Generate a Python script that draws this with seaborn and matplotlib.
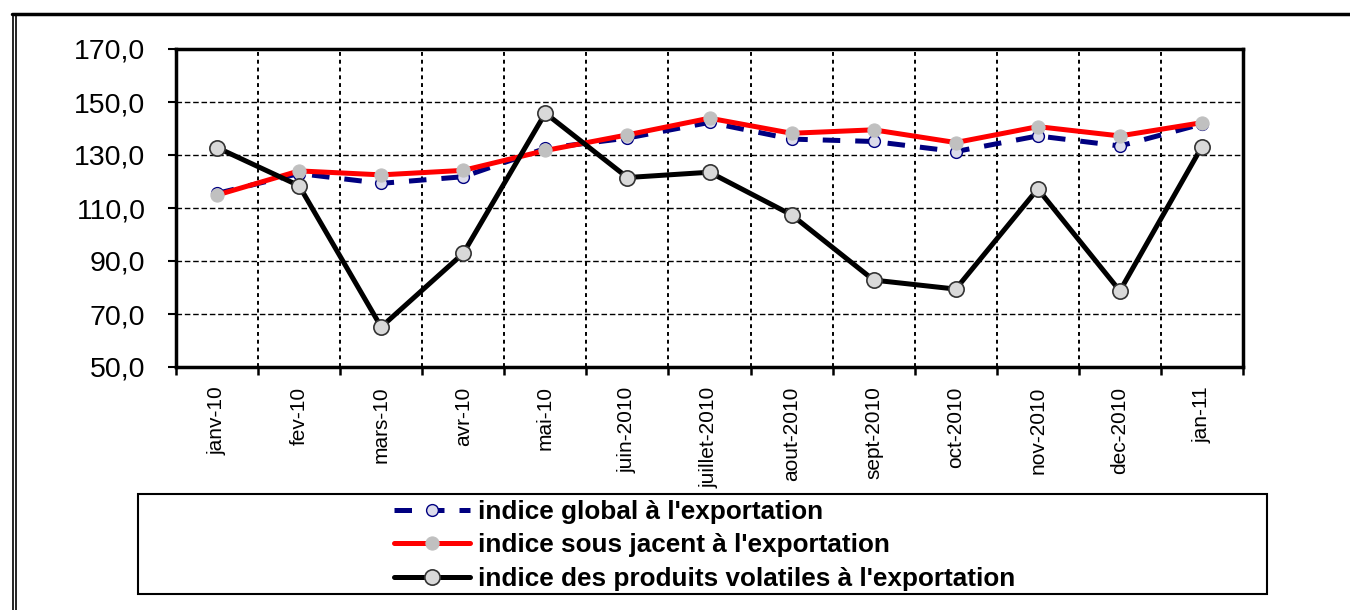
import matplotlib
matplotlib.use("Agg")
import matplotlib.pyplot as plt
from matplotlib.lines import Line2D
from matplotlib.patches import Rectangle
from matplotlib.ticker import FuncFormatter, FixedLocator
import seaborn as sns
import numpy as np
import pandas as pd

months = ["janv-10", "fev-10", "mars-10", "avr-10", "mai-10", "juin-2010",
          "juillet-2010", "aout-2010", "sept-2010", "oct-2010", "nov-2010",
          "dec-2010", "jan-11"]
global_idx = [115.5, 123.0, 119.3, 121.8, 132.5, 136.4, 142.3, 136.0, 135.1,
              131.3, 137.2, 133.4, 141.7]
sous_jacent = [114.9, 124.0, 122.5, 124.2, 131.7, 137.6, 143.9, 138.2, 139.5,
               134.7, 140.7, 137.2, 142.2]
volatiles = [132.8, 118.4, 65.1, 92.9, 145.8, 121.5, 123.5, 107.4, 82.8,
             79.4, 117.2, 78.7, 133.2]
labels = ["indice global à l'exportation",
          "indice sous jacent à l'exportation",
          "indice des produits volatiles à l'exportation"]

df = pd.DataFrame({"pos": np.arange(len(months)), "g": global_idx,
                   "s": sous_jacent, "v": volatiles})

sns.set_style("white")
plt.rcParams["font.family"] = ["Liberation Sans", "DejaVu Sans"]
plt.rcParams["text.color"] = "black"
plt.rcParams["xtick.color"] = "black"
plt.rcParams["ytick.color"] = "black"

W, H = 1350, 610
fig = plt.figure(figsize=(W / 100, H / 100), dpi=100)
ax = fig.add_axes([176 / W, 1 - 367 / H, (1243 - 176) / W, (367 - 49) / H])

sns.lineplot(data=df, x="pos", y="g", ax=ax, color="#000080", linewidth=3.6,
             linestyle=(0, (3.5, 3)), marker="o", markersize=8.5,
             markerfacecolor="#DCDCEB", markeredgecolor="#000080",
             markeredgewidth=1.0, label=labels[0], legend=False, zorder=3)
sns.lineplot(data=df, x="pos", y="s", ax=ax, color="#FF0000", linewidth=3.6,
             marker="o", markersize=9.5, markerfacecolor="#C0C0C0",
             markeredgecolor="#C0C0C0", label=labels[1], legend=False, zorder=4)
sns.lineplot(data=df, x="pos", y="v", ax=ax, color="#000000", linewidth=3.6,
             marker="o", markersize=11, markerfacecolor="#D9D9D9",
             markeredgecolor="#333333", markeredgewidth=1.2,
             label=labels[2], legend=False, zorder=5)

ax.set_xlim(-0.5, len(months) - 0.5)
ax.set_ylim(50, 170)
ax.set_yticks(np.arange(50, 171, 20))
ax.yaxis.set_major_formatter(FuncFormatter(lambda v, p: f"{v:.1f}".replace(".", ",")))
ax.set_xticks(np.arange(len(months)))
ax.set_xticklabels(months, rotation=90, va="top", ha="center")
ax.xaxis.set_minor_locator(FixedLocator(np.arange(-0.5, len(months), 1.0)))
ax.set_xlabel("")
ax.set_ylabel("")

ax.tick_params(axis="x", which="major", length=0, pad=14, labelsize=15)
ax.tick_params(axis="x", which="minor", length=6, width=1.8, color="black",
               direction="out", bottom=True)
ax.tick_params(axis="y", length=6, width=1.5, color="black", direction="out",
               left=True, pad=16, labelsize=20.5)

ax.grid(False)
for y in range(70, 170, 20):
    ax.axhline(y, color="black", lw=1.0, ls=(0, (4, 2)), zorder=1)
for x in np.arange(0.5, len(months) - 1, 1.0):
    ax.axvline(x, color="black", lw=1.4, ls=(0, (2, 2)), zorder=1)

for sp in ax.spines.values():
    sp.set_color("black")
    sp.set_linewidth(2.5)

# outer frame (top and double left border)
fig.add_artist(Line2D([12 / W, 1], [1 - 14 / H, 1 - 14 / H], color="black",
                      lw=2.5, transform=fig.transFigure))
for xl in (12.5, 15.5):
    fig.add_artist(Line2D([xl / W, xl / W], [0, 1 - 14 / H], color="black",
                          lw=1.2, transform=fig.transFigure))

# legend box
fig.add_artist(Rectangle((138 / W, 1 - 594 / H), (1267 - 138) / W, 100 / H,
                         facecolor="white", edgecolor="black", lw=1.5,
                         transform=fig.transFigure, zorder=10))
handles, lbls = ax.get_legend_handles_labels()
leg = fig.legend(handles, lbls, loc="upper left",
                 bbox_to_anchor=(394 / W, 1 - 500 / H), frameon=False,
                 handlelength=2.9, handletextpad=0.3, labelspacing=0.36,
                 borderpad=0, borderaxespad=0,
                 prop={"family": ["Liberation Sans"],
                       "weight": "bold", "size": 18.8})
leg.set_zorder(11)

fig.savefig("out.png", dpi=100, facecolor="white")
